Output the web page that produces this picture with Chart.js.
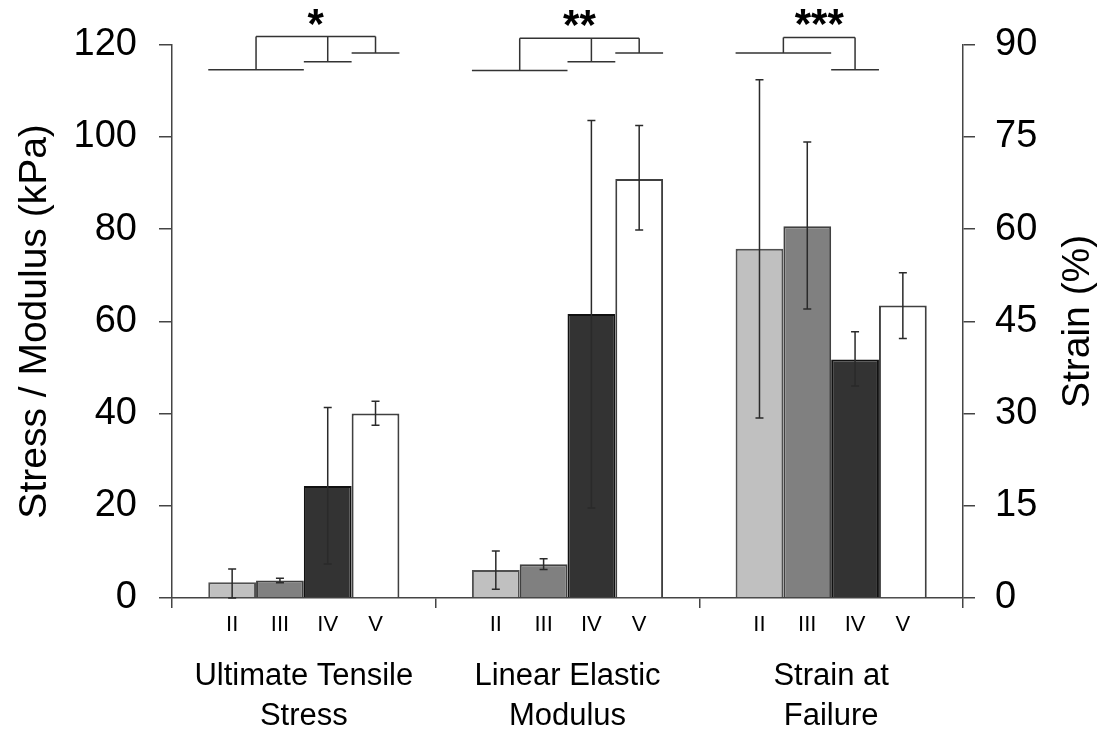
<!DOCTYPE html>
<html>
<head>
<meta charset="utf-8">
<title>Mechanical properties by grade</title>
<script src="https://cdn.jsdelivr.net/npm/chart.js@4.4.1/dist/chart.umd.min.js"></script>
<style>
  html, body { margin: 0; padding: 0; background: #fff; }
  #wrap { width: 1106px; height: 730px; position: relative; }
</style>
</head>
<body>
<div id="wrap"><canvas id="myChart"></canvas></div>
<script>
const groups = [['Ultimate Tensile', 'Stress'], ['Linear Elastic', 'Modulus'], ['Strain at', 'Failure']];
const tiers = ['II', 'III', 'IV', 'V'];

// kPa, left axis
const utsMean = [3.4, 3.8, 24.3, 40.0];
const utsLow = [0, 3.3, 7.4, 37.5];
const utsHigh = [6.3, 4.3, 41.3, 42.7];
const modMean = [6.1, 7.3, 61.6, 90.9];
const modLow = [1.9, 6.2, 19.5, 79.8];
const modHigh = [10.2, 8.5, 103.6, 102.5];

// %, right axis
const strainMean = [56.8, 60.5, 38.8, 47.6];
const strainLow = [29.3, 47.0, 34.5, 42.2];
const strainHigh = [84.3, 74.2, 43.3, 52.9];

// significance brackets, levels in kPa axis units
const sigLabels = ['*', '**', '***'];
const sigClusters = [[[0, 1], [2], [3]], [[0, 1], [2], [3]], [[0, 1], [2]]];
const sigLevels = [[114.6, 116.3, 118.2], [114.4, 116.3, 118.2], [118.2, 114.6]];
const sigTop = [121.8, 121.4, 121.6];

const fills = ['#c0c0c0', '#808080', '#333333', '#ffffff'];
const borders = ['#505050', '#404040', '#111111', '#404040'];

Chart.defaults.font.family = '"Liberation Sans", Arial, sans-serif';
Chart.defaults.color = '#000';

const myChartElement = document.getElementById('myChart');

let myDatasets = [];
tiers.forEach((t, i) => {
  myDatasets.push({
    label: t,
    data: [utsMean[i], modMean[i], null],
    errLow: [utsLow[i], modLow[i], null],
    errHigh: [utsHigh[i], modHigh[i], null],
    yAxisID: 'y',
    backgroundColor: fills[i],
    borderColor: borders[i],
    borderWidth: 2
  });
});
tiers.forEach((t, i) => {
  myDatasets.push({
    label: t + ' strain',
    data: [null, null, strainMean[i]],
    errLow: [null, null, strainLow[i]],
    errHigh: [null, null, strainHigh[i]],
    yAxisID: 'y2',
    backgroundColor: fills[i],
    borderColor: borders[i],
    borderWidth: 2
  });
});

// bar element for tier t in group g
function barFor(chart, g, t) {
  let ds = g < 2 ? t : 4 + t;
  return chart.getDatasetMeta(ds).data[g];
}

const errorBars = {
  id: 'errorBars',
  afterDatasetsDraw(chart) {
    const ctx = chart.ctx;
    ctx.save();
    ctx.strokeStyle = '#2a2a2a';
    ctx.lineWidth = 1.5;
    chart.data.datasets.forEach((ds, di) => {
      const meta = chart.getDatasetMeta(di);
      const scale = chart.scales[ds.yAxisID];
      meta.data.forEach((bar, j) => {
        if (ds.data[j] == null) return;
        const yLo = scale.getPixelForValue(ds.errLow[j]);
        const yHi = scale.getPixelForValue(ds.errHigh[j]);
        const cap = 4;
        ctx.beginPath();
        ctx.moveTo(bar.x, yLo);
        ctx.lineTo(bar.x, yHi);
        ctx.moveTo(bar.x - cap, yHi);
        ctx.lineTo(bar.x + cap, yHi);
        ctx.moveTo(bar.x - cap, yLo);
        ctx.lineTo(bar.x + cap, yLo);
        ctx.stroke();
      });
    });
    ctx.restore();
  }
};

const extras = {
  id: 'extras',
  afterDraw(chart) {
    const ctx = chart.ctx;
    const area = chart.chartArea;
    const yScale = chart.scales.y;
    ctx.save();

    // grade labels under every bar
    ctx.fillStyle = '#000';
    ctx.font = '22px "Liberation Sans", Arial, sans-serif';
    ctx.textAlign = 'center';
    ctx.textBaseline = 'alphabetic';
    groups.forEach((g, gi) => {
      tiers.forEach((t, ti) => {
        const bar = barFor(chart, gi, ti);
        ctx.fillText(t, bar.x, area.bottom + 33);
      });
    });

    // significance brackets
    ctx.strokeStyle = '#333';
    ctx.lineWidth = 1.5;
    sigClusters.forEach((clusters, gi) => {
      const topY = yScale.getPixelForValue(sigTop[gi]);
      let anchors = [];
      clusters.forEach((members, ci) => {
        const first = barFor(chart, gi, members[0]);
        const last = barFor(chart, gi, members[members.length - 1]);
        const x0 = first.x - first.width / 2;
        const x1 = last.x + last.width / 2;
        const y = yScale.getPixelForValue(sigLevels[gi][ci]);
        const ax = (x0 + x1) / 2;
        anchors.push(ax);
        ctx.beginPath();
        ctx.moveTo(x0, y);
        ctx.lineTo(x1, y);
        ctx.moveTo(ax, y);
        ctx.lineTo(ax, topY);
        ctx.stroke();
      });
      const left = Math.min(...anchors);
      const right = Math.max(...anchors);
      ctx.beginPath();
      ctx.moveTo(left, topY);
      ctx.lineTo(right, topY);
      ctx.stroke();

      ctx.font = 'bold 42px "Liberation Sans", Arial, sans-serif';
      ctx.textAlign = 'center';
      ctx.textBaseline = 'alphabetic';
      ctx.fillText(sigLabels[gi], (left + right) / 2, topY + 1);
    });

    // right axis title, reading upwards
    const y2 = chart.scales.y2;
    ctx.translate(y2.right - 28, (area.top + area.bottom) / 2);
    ctx.rotate(-Math.PI / 2);
    ctx.font = '39px "Liberation Sans", Arial, sans-serif';
    ctx.textAlign = 'center';
    ctx.textBaseline = 'middle';
    ctx.fillText('Strain (%)', 0, 0);
    ctx.restore();
  }
};

let myChart = new Chart(myChartElement, {
  type: 'bar',
  data: {
    labels: groups,
    datasets: myDatasets
  },
  options: {
    responsive: true,
    maintainAspectRatio: false,
    animation: false,
    skipNull: true,
    categoryPercentage: 0.725,
    barPercentage: 1.0,
    layout: { padding: { top: 43, left: 0, right: 0, bottom: 0 } },
    plugins: {
      legend: { display: false },
      tooltip: { enabled: false }
    },
    scales: {
      x: {
        grid: { drawOnChartArea: false, offset: true, tickLength: 10, color: '#444', lineWidth: 1.5 },
        border: { color: '#444', width: 1.5 },
        ticks: { font: { size: 31, lineHeight: 1.3 }, padding: 48, maxRotation: 0, autoSkip: false },
        afterFit: (s) => { s.height = 132; }
      },
      y: {
        position: 'left',
        min: 0,
        max: 120,
        ticks: { stepSize: 20, font: { size: 38 }, padding: 22 },
        grid: { drawOnChartArea: false, tickLength: 13, color: '#444', lineWidth: 1.5 },
        border: { color: '#444', width: 1.5 },
        title: { display: true, text: 'Stress / Modulus (kPa)', font: { size: 39 }, padding: { top: 12, bottom: 0 } },
        afterFit: (s) => { s.width = 172; }
      },
      y2: {
        position: 'right',
        min: 0,
        max: 90,
        ticks: { stepSize: 15, font: { size: 38 }, padding: 20 },
        grid: { drawOnChartArea: false, tickLength: 12, color: '#444', lineWidth: 1.5 },
        border: { color: '#444', width: 1.5 },
        afterFit: (s) => { s.width = 143; }
      }
    }
  },
  plugins: [errorBars, extras]
});
</script>
</body>
</html>
